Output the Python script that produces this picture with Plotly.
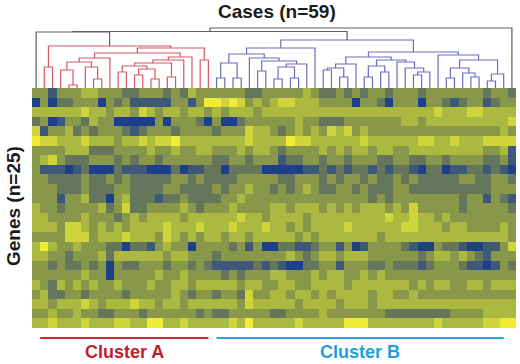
import plotly.graph_objects as go

N_CASES = 59
N_GENES = 25

# expression level per gene (row) and case (column): 0 = dark blue (low) ... 6 = bright yellow (high)
heat_rows = [
    "331333443332233 32324333333223 333343223232332 333233333332332",
    "030223330323111 11331366565343 455444333303320 333033212331233",
    "444444544344354 34434434344434 444444444444444 444445444554444",
    "230133243300000 30333203002333 333433222333333 344344444444445",
    "513342323332123 33233332333544 323434354534333 333333333333343",
    "655444544434454 55644444444544 446554444445444 444554454445555",
    "333344422233334 33433443334344 323333434344344 334444444443341",
    "345322233323233 23333332233233 312233233233322 332233233332231",
    "311101200021110 00201122022220 000011212122121 221022011221210",
    "332222322323222 22332322223333 322333232332322 323222223322332",
    "333222322233222 23322223233433 232343223323222 332222222222333",
    "333133422034222 12232222334333 333333333333232 333333332331321",
    "433233334235223 33343233343333 443444343434443 435333332333332",
    "443333433323434 44434444445443 444434444444445 445443433333333",
    "444355434343444 45444544454445 443434444544444 455444344333343",
    "333355534445444 35434344344344 444343444444434 444444444444443",
    "464334333220221 34330333323130 022112331301333 321003221001135",
    "443323334244444 43443332333333 334323443444333 333234434321333",
    "332322323032233 32332321111121 210022331333223 222123332110132",
    "333333433033333 43343333232333 443334344334343 333333333333333",
    "432434343343334 33443444443443 344334444344444 443434433443444",
    "342233233332333 33432332332533 443443434444344 334333333333333",
    "443444543444544 34434444443544 444344443444344 444444444444444",
    "334334332233323 33333232233333 22333343333333 2222222233334444",
    "445444544455446 64454444454644 44454444466644 4444445444445566",
]

level_colors = ["rgb(30,64,138)", "rgb(62,88,122)", "rgb(102,118,90)",
                "rgb(136,151,74)", "rgb(171,185,64)", "rgb(207,212,58)",
                "rgb(238,236,52)"]

cluster_A = list(range(1, 22))
cluster_B = list(range(22, 58))

# dendrogram merges: (node, child_a, child_b, height)
merges = [
    ("r12", 1, 2, 21), ("r45", 4, 5, 3), ("r345", 3, "r45", 18),
    ("r78", 7, 8, 9), ("r678", 6, "r78", 21), ("r3_8", "r345", "r678", 26),
    ("r3_9", "r3_8", 9, 30), ("r1011", 10, 11, 16), ("r1213", 12, 13, 13),
    ("r1415", 14, 15, 9), ("r1617", 16, 17, 11), ("r12_15", "r1213", "r1415", 19),
    ("r10_15", "r1011", "r12_15", 22), ("r10_17", "r10_15", "r1617", 25),
    ("r10_18", "r10_17", 18, 28), ("r10_19", "r10_18", 19, 31),
    ("r3_19", "r3_9", "r10_19", 35), ("r2021", 20, 21, 28),
    ("r3_21", "r3_19", "r2021", 40), ("R", "r12", "r3_21", 42),
    ("b2223", 22, 23, 10), ("b2425", 24, 25, 10), ("b22_25", "b2223", "b2425", 25),
    ("b2728", 27, 28, 17), ("b2930", 29, 30, 9), ("b3132", 31, 32, 10),
    ("b29_32", "b2930", "b3132", 21), ("b29_33", "b29_32", 33, 24),
    ("b27_33", "b2728", "b29_33", 27), ("b26_33", 26, "b27_33", 30),
    ("B1a", "b22_25", "b26_33", 34), ("B1", "B1a", 34, 40),
    ("b3536", 35, 36, 18), ("b3738", 37, 38, 11), ("b35_38", "b3536", "b3738", 20),
    ("b35_39", "b35_38", 39, 24), ("b4041", 40, 41, 11), ("b4243", 42, 43, 16),
    ("b40_43", "b4041", "b4243", 22), ("b4647", 46, 47, 13),
    ("b46_48", "b4647", 48, 16), ("b45_48", 45, "b46_48", 20),
    ("b44_48", 44, "b45_48", 26), ("c2", "b40_43", "b44_48", 28),
    ("B2a", "b35_39", "c2", 31),
    ("b5051", 50, 51, 10), ("b5354", 53, 54, 11), ("b52_54", 52, "b5354", 15),
    ("e1", "b5051", "b52_54", 20), ("b5556", 55, 56, 7), ("e2", "b5556", 57, 14),
    ("d2", "e1", "e2", 28), ("B2b", 49, "d2", 33), ("B2", "B2a", "B2b", 36),
    ("B", "B1", "B2", 48),
    ("N1", 0, "R", 56), ("X", "N1", "B", 56.5), ("root", "X", 58, 60),
]

line_colors = {"red": "rgb(208,88,100)", "blue": "rgb(108,108,190)", "grey": "rgb(95,95,95)"}

# ---- build dendrogram segments ----
x_of = {i: float(i) for i in range(N_CASES)}
h_of = {i: 0.0 for i in range(N_CASES)}
leaves_of = {i: {i} for i in range(N_CASES)}
segs = {k: ([], []) for k in line_colors}
setA, setB = set(cluster_A), set(cluster_B)
for name, a, b, h in merges:
    lv = leaves_of[a] | leaves_of[b]
    grp = "red" if lv <= setA else ("blue" if lv <= setB else "grey")
    xs, ys = segs[grp]
    xs += [x_of[a], x_of[a], x_of[b], x_of[b], None]
    ys += [h_of[a], h, h, h_of[b], None]
    x_of[name] = (x_of[a] + x_of[b]) / 2
    h_of[name] = h
    leaves_of[name] = lv

z = []
for row in heat_rows:
    s = row.replace(" ", "")
    assert len(s) == N_CASES, (row, len(s))
    z.append([int(ch) for ch in s])
assert len(z) == N_GENES

cscale = [[i / 6, c] for i, c in enumerate(level_colors)]

fig = go.Figure()
fig.add_trace(go.Heatmap(z=z, x=list(range(N_CASES)), y=list(range(N_GENES)),
                         colorscale=cscale, zmin=0, zmax=6, showscale=False,
                         xgap=0, ygap=0, hoverinfo="skip"))
for grp, (xs, ys) in segs.items():
    fig.add_trace(go.Scatter(x=xs, y=ys, mode="lines", yaxis="y2",
                             line=dict(color=line_colors[grp], width=1.2),
                             hoverinfo="skip", showlegend=False))

W, H = 520, 364
hm_left, hm_right, hm_top, hm_bottom = 32, 516, 88, 328
fig.update_layout(
    width=W, height=H, margin=dict(l=0, r=0, t=0, b=0),
    paper_bgcolor="white", plot_bgcolor="white", showlegend=False,
    xaxis=dict(domain=[hm_left / W, hm_right / W], range=[-0.5, N_CASES - 0.5],
               showticklabels=False, ticks="", showgrid=False, zeroline=False, showline=False),
    yaxis=dict(domain=[1 - hm_bottom / H, 1 - hm_top / H], range=[N_GENES - 0.5, -0.5],
               showticklabels=False, ticks="", showgrid=False, zeroline=False, showline=False),
    yaxis2=dict(domain=[1 - hm_top / H, 1 - 20 / H], range=[0, 68], anchor="x",
                showticklabels=False, ticks="", showgrid=False, zeroline=False, showline=False),
)

font_fam = "Liberation Sans, Arial, sans-serif"
fig.add_annotation(text="<b>Cases (n=59)</b>", xref="paper", yref="paper",
                   x=277 / W, y=1 - 11 / H, xanchor="center", yanchor="middle",
                   showarrow=False, font=dict(family=font_fam, size=19, color="#1a1a1a"))
fig.add_annotation(text="<b>Genes (n=25)</b>", xref="paper", yref="paper",
                   x=13 / W, y=1 - 206 / H, xanchor="center", yanchor="middle",
                   showarrow=False, textangle=-90,
                   font=dict(family=font_fam, size=19, color="#1a1a1a"))

clusters = [("Cluster A", 0.5, 21.0, "rgb(200,40,52)", "rgb(192,30,45)"),
            ("Cluster B", 22.0, 57.0, "rgb(40,165,222)", "rgb(30,160,220)")]
for label, x0, x1, lc, tc in clusters:
    fig.add_shape(type="line", xref="x", yref="paper", x0=x0, x1=x1,
                  y0=1 - 338 / H, y1=1 - 338 / H, line=dict(color=lc, width=2))
    fig.add_annotation(text="<b>%s</b>" % label, xref="x", yref="paper",
                       x=(x0 + x1) / 2, y=1 - 352 / H, xanchor="center", yanchor="middle",
                       showarrow=False, font=dict(family=font_fam, size=18, color=tc))

fig.write_html("out.html", config={"displayModeBar": False},
               post_script="document.body.style.margin='0px';document.body.style.padding='0px';")
